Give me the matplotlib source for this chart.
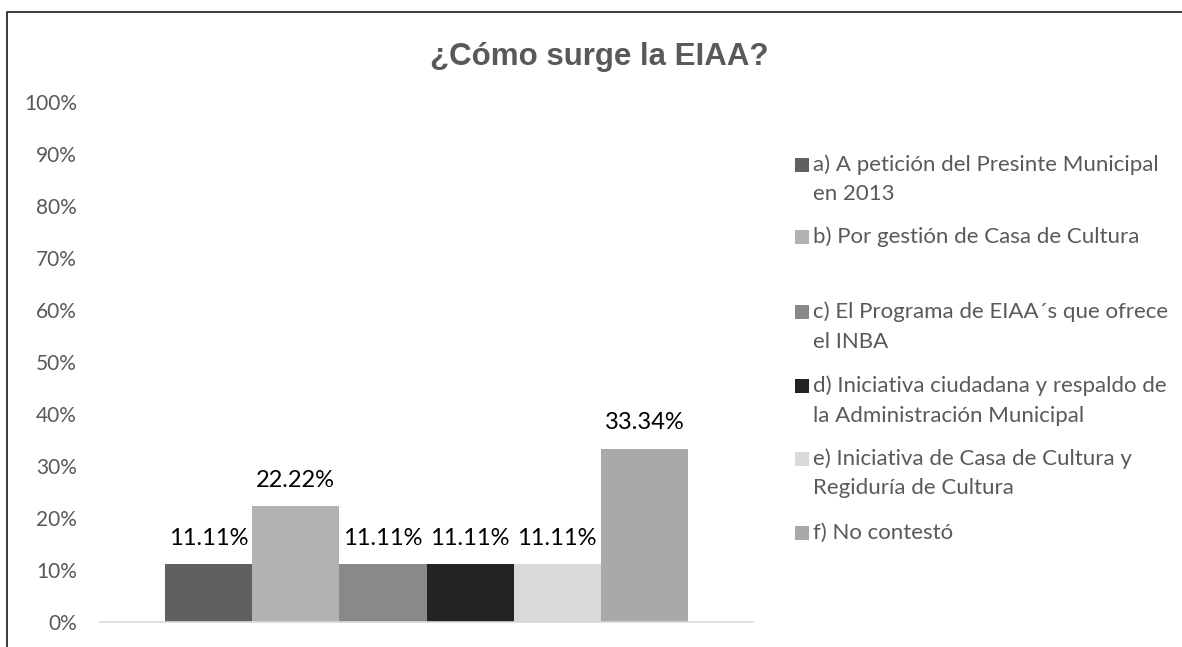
import numpy as np
import matplotlib
matplotlib.use("Agg")
import matplotlib.pyplot as plt
from matplotlib.lines import Line2D
from matplotlib.patches import Rectangle

# data
categories = [
    "a) A petición del Presinte Municipal\nen 2013",
    "b) Por gestión de Casa de Cultura",
    "c) El Programa de EIAA´s que ofrece\nel INBA",
    "d) Iniciativa ciudadana y respaldo de\nla Administración Municipal",
    "e) Iniciativa de Casa de Cultura y\nRegiduría de Cultura",
    "f) No contestó",
]
values = [0.1111, 0.2222, 0.1111, 0.1111, 0.1111, 0.3334]
value_labels = ["11.11%", "22.22%", "11.11%", "11.11%", "11.11%", "33.34%"]
colors = ["#606060", "#b2b2b2", "#898989", "#232323", "#d9d9d9", "#a9a9a9"]
yticks = np.arange(0, 1.01, 0.1)
ytick_labels = [f"{int(round(t * 100))}%" for t in yticks]

W, H = 1182, 647
fig = plt.figure(figsize=(W / 100, H / 100), dpi=100)
fig.patch.set_facecolor("white")

# plot area in pixels: x 100..753, y 102..622
ax = fig.add_axes([100 / W, (H - 622) / H, 653 / W, 520 / H])
x = np.arange(len(values))
ax.bar(x, values, width=1.0, color=colors, linewidth=0)

margin = 65 / (523 / 6)
ax.set_xlim(-0.5 - margin, len(values) - 0.5 + margin)
ax.set_ylim(0, 1)

for xi, v, lab in zip(x, values, value_labels):
    ax.annotate(lab, (xi, v), xytext=(0, 18.5), textcoords="offset points",
                ha="center", va="center", fontsize=17, color="#000000",
                family="Lato")

ax.set_yticks(yticks)
ax.set_yticklabels(ytick_labels, fontsize=15, color="#595959", family="Lato")
ax.tick_params(axis="y", length=0, pad=16.5)
ax.set_xticks([])
for s in ["top", "right", "left"]:
    ax.spines[s].set_visible(False)
ax.spines["bottom"].set_color("#d9d9d9")
ax.spines["bottom"].set_linewidth(1.2)

fig.text(599 / W, 1 - 57 / H, "¿Cómo surge la EIAA?", ha="center", va="center",
         fontsize=22.5, fontweight="bold", color="#595959", family="Liberation Sans")

# legend, drawn by hand like excel's fixed slots
slot_y = [165, 237, 312, 386, 459, 533]
for name, col, yy in zip(categories, colors, slot_y):
    fig.patches.append(Rectangle((795 / W, 1 - (yy + 7) / H), 14 / W, 14 / H,
                                 transform=fig.transFigure, facecolor=col,
                                 edgecolor="none"))
    for k, line in enumerate(name.split("\n")):
        fig.text(813 / W, 1 - (yy + 29.5 * k) / H, line, ha="left", va="center",
                 fontsize=16, color="#595959", family="Lato")

# frame of the pasted chart
fig.add_artist(Line2D([7 / W, 7 / W, 1], [0, 1 - 12 / H, 1 - 12 / H],
                      transform=fig.transFigure, color="#1a1a1a", linewidth=1.2))

fig.savefig("out.png", dpi=100)
